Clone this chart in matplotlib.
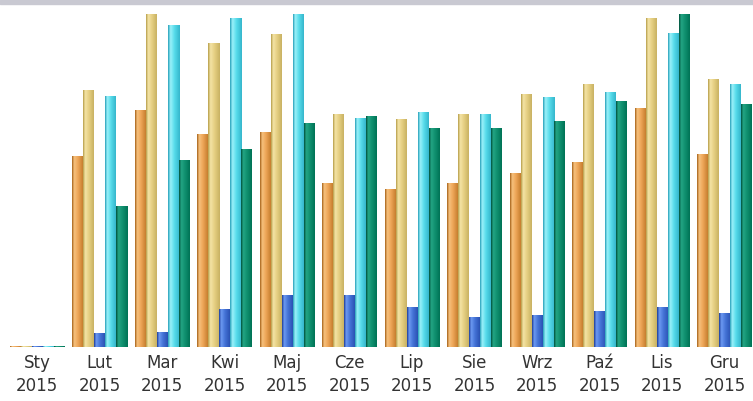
import numpy as np
import matplotlib.pyplot as plt
from matplotlib.colors import LinearSegmentedColormap

months = ['Sty', 'Lut', 'Mar', 'Kwi', 'Maj', 'Cze', 'Lip', 'Sie', 'Wrz', 'Paź', 'Lis', 'Gru']
year = '2015'

# values (arbitrary units)
orange = [1, 191, 237, 213, 215, 164, 158, 164, 174, 185, 239, 193]
khaki = [1, 257, 333, 304, 313, 233, 228, 233, 253, 263, 329, 268]
blue = [1, 14, 15, 38, 52, 52, 40, 30, 32, 36, 40, 34]
cyan = [1, 251, 322, 329, 333, 229, 235, 233, 250, 255, 314, 263]
green = [1, 141, 187, 198, 224, 231, 219, 219, 226, 246, 333, 243]

series = [orange, khaki, blue, cyan, green]
# (dark edge, highlight, body, right shade)
shades = [
    ['#a8641c', '#f7c27e', '#eda557', '#c77f30'],
    ['#b8a04c', '#f4e4a6', '#e5cf82', '#c9b263'],
    ['#1f3f9c', '#6d9af2', '#4473d6', '#2b52b4'],
    ['#2aa2bb', '#9cf2fa', '#56dbea', '#36b7cc'],
    ['#00543e', '#24a584', '#10906f', '#007356'],
]

fig = plt.figure(figsize=(7.53, 4.01), dpi=100)
ax = fig.add_axes([0, 54 / 401, 1, 1 - 58 / 401])
x = np.arange(len(months))
w = 11 / 62.5

for k, (vals, cols) in enumerate(zip(series, shades)):
    cmap = LinearSegmentedColormap.from_list('s%d' % k, list(zip([0, 0.2, 0.55, 1], cols)))
    grad = np.linspace(0, 1, 32).reshape(1, -1)
    bars = ax.bar(x + (k - 2) * w, vals, width=w, color=cols[2], linewidth=0)
    for b in bars:
        x0, h = b.get_x(), b.get_height()
        ax.imshow(grad, cmap=cmap, extent=[x0, x0 + b.get_width(), 0, h],
                  aspect='auto', origin='lower', zorder=2, interpolation='bilinear')

ax.set_xlim(-37 / 62.5, 11 + 28.5 / 62.5)
ax.set_ylim(0, 343)
ax.axis('off')

for i, m in enumerate(months):
    ax.text(x[i], -16, m, ha='center', va='center', fontsize=12, color='#333333')
    ax.text(x[i], -39, year, ha='center', va='center', fontsize=12, color='#333333')

# grey strip at the top
fig.patches.append(plt.Rectangle((0, 1 - 4 / 401), 1, 4 / 401, transform=fig.transFigure,
                                 color='#c9c9d2', zorder=0))

fig.savefig('out.png', dpi=100)
